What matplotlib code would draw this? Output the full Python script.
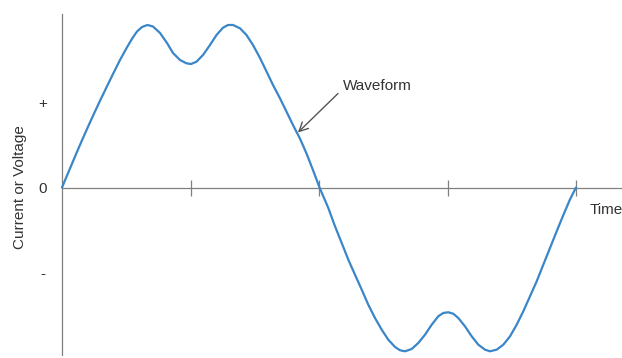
import matplotlib
matplotlib.use("Agg")
import matplotlib.pyplot as plt

# Waveform samples (time as fraction of one period, value in "+" units)
time = [0.0000, 0.0097, 0.0195, 0.0292, 0.0389, 0.0506, 0.0623, 0.0739, 0.0875, 0.0992,
        0.1128, 0.1265, 0.1362, 0.1459, 0.1556, 0.1663, 0.1770, 0.1907, 0.2043, 0.2160,
        0.2296, 0.2422, 0.2510, 0.2617, 0.2743, 0.2879, 0.3006, 0.3132, 0.3230, 0.3327,
        0.3463, 0.3589, 0.3716, 0.3852, 0.3979, 0.4105, 0.4241, 0.4368, 0.4494, 0.4630,
        0.4757, 0.4883, 0.5010,
        0.5181, 0.5311, 0.5442, 0.5570, 0.5700, 0.5831, 0.5959, 0.6089, 0.6220, 0.6348,
        0.6479, 0.6576, 0.6673, 0.6803, 0.6932, 0.7062, 0.7193, 0.7321, 0.7418, 0.7516,
        0.7613, 0.7710, 0.7840, 0.7971, 0.8099, 0.8230, 0.8327, 0.8457, 0.8586, 0.8716,
        0.8846, 0.8975, 0.9105, 0.9235, 0.9364, 0.9494, 0.9624, 0.9753, 0.9883, 1.0000]
value = [0.000, 0.140, 0.280, 0.420, 0.555, 0.715, 0.870, 1.020, 1.190, 1.335,
         1.500, 1.650, 1.750, 1.835, 1.888, 1.912, 1.894, 1.818, 1.700, 1.582,
         1.500, 1.461, 1.453, 1.480, 1.559, 1.676, 1.794, 1.880, 1.912, 1.912,
         1.873, 1.794, 1.676, 1.524, 1.365, 1.206, 1.049, 0.892, 0.735, 0.575,
         0.400, 0.205, 0.000,
         -0.241, -0.456, -0.653, -0.849, -1.026, -1.202, -1.379, -1.535, -1.673, -1.791,
         -1.876, -1.915, -1.927, -1.900, -1.829, -1.732, -1.614, -1.515, -1.476, -1.468,
         -1.485, -1.535, -1.633, -1.751, -1.849, -1.908, -1.927, -1.908, -1.849, -1.751,
         -1.614, -1.456, -1.280, -1.104, -0.908, -0.712, -0.515, -0.325, -0.140, 0.000]

x_ticks = [0.25, 0.5, 0.75, 1.0]
y_ticks = [1, 0, -1]
y_tick_labels = ["+", "0", "-"]

plt.rcParams["font.family"] = ["Liberation Sans", "DejaVu Sans"]
TEXT = "#333333"
AXC = "#808080"
CURVE = "#3a86c8"

fig = plt.figure(figsize=(6.22, 3.58), dpi=100)
ax = fig.add_axes([0, 0, 1, 1])
ax.set_xlim(-62 / 514, 560 / 514)
ax.set_ylim(-170.5 / 85, 187.5 / 85)

ax.plot(time, value, color=CURVE, lw=1.6, solid_joinstyle="round",
        solid_capstyle="round", zorder=3)

for s in ["top", "right"]:
    ax.spines[s].set_visible(False)
ax.spines["left"].set_position(("data", 0))
ax.spines["bottom"].set_position(("data", 0))
ax.spines["left"].set_bounds(-1.971, 2.041)
ax.spines["bottom"].set_bounds(0, 560 / 514)
for s in ["left", "bottom"]:
    ax.spines[s].set_color(AXC)
    ax.spines[s].set_linewidth(0.9)

ax.set_xticks(x_ticks)
ax.set_xticklabels([])
ax.tick_params(axis="x", direction="inout", length=12, width=0.9, color=AXC)

ax.set_yticks(y_ticks)
ax.set_yticklabels(y_tick_labels, fontsize=11, color=TEXT)
ax.tick_params(axis="y", length=0, pad=14)
for lab in ax.get_yticklabels():
    lab.set_horizontalalignment("center")

ax.set_ylabel("Current or Voltage", fontsize=11, color=TEXT, va="center")
ax.yaxis.set_label_coords(20 / 622, 1 - 187 / 358)
ax.set_xlabel("Time", fontsize=11, color=TEXT, ha="left", va="center")
ax.xaxis.set_label_coords(590 / 622, 1 - 210 / 358)

ax.text(0.547, 1.20, "Waveform", fontsize=11, color=TEXT, ha="left", va="center")
ax.annotate("", xy=(0.459, 0.647), xytext=(0.537, 1.106),
            arrowprops=dict(arrowstyle="->", color="#555555", lw=1.0,
                            mutation_scale=16, shrinkA=0, shrinkB=0))

fig.savefig("out.png", dpi=100)
